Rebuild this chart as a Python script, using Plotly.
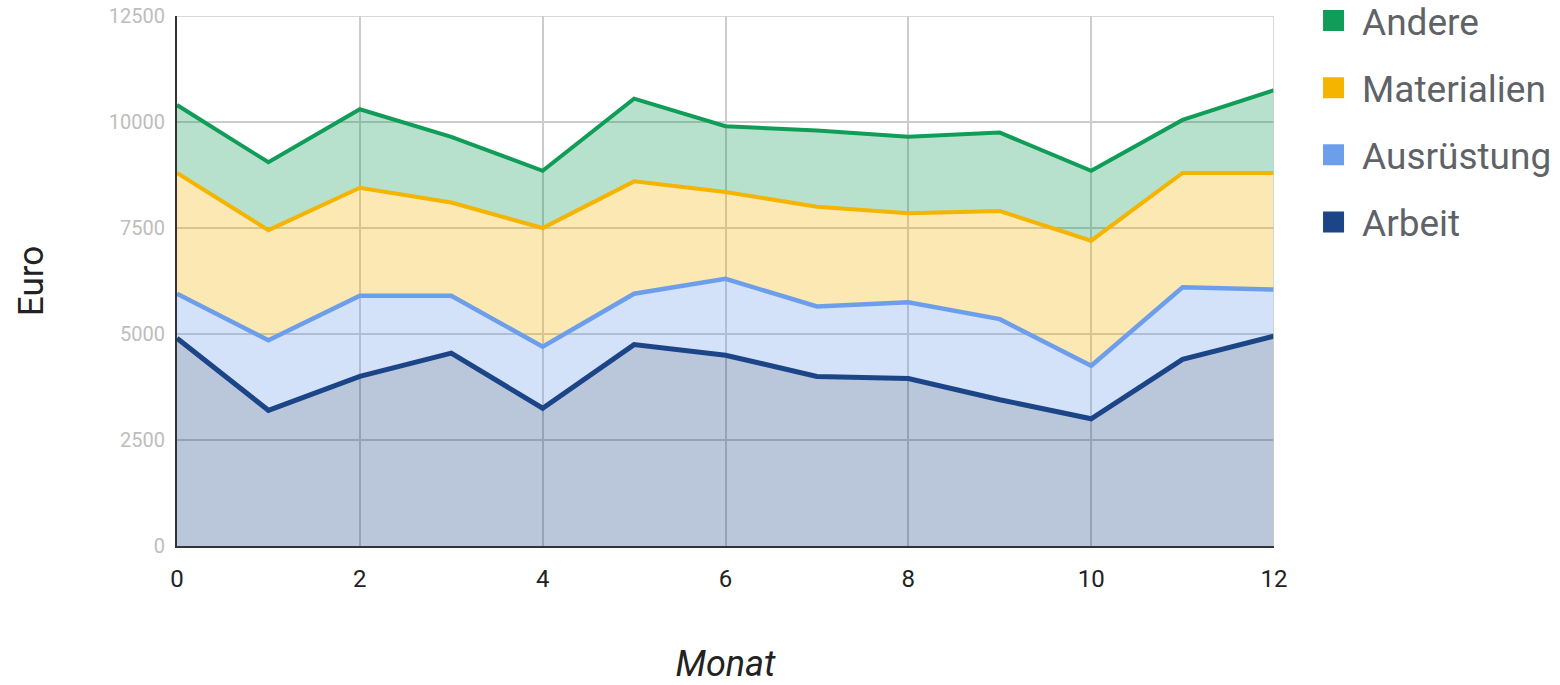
import plotly.graph_objects as go

monate = list(range(13))
arbeit = [4900, 3200, 4000, 4550, 3250, 4750, 4500, 4000, 3950, 3450, 3000, 4400, 4950]
ausruestung = [1050, 1650, 1900, 1350, 1450, 1200, 1800, 1650, 1800, 1900, 1250, 1700, 1100]
materialien = [2850, 2600, 2550, 2200, 2800, 2650, 2050, 2350, 2100, 2550, 2950, 2700, 2750]
andere = [1600, 1600, 1850, 1550, 1350, 1950, 1550, 1800, 1800, 1850, 1650, 1250, 1950]

y_ticks = [0, 2500, 5000, 7500, 10000, 12500]
y_ticktext = ["0", "2500", "5000", "7500", "10000", "12500"]
x_ticks = [0, 2, 4, 6, 8, 10, 12]

serien = [
    ("Arbeit", arbeit, "#1c4587", "rgba(28,69,135,0.3)", 5),
    ("Ausrüstung", ausruestung, "#6d9eeb", "rgba(109,158,235,0.3)", 4.5),
    ("Materialien", materialien, "#f4b400", "rgba(244,180,0,0.3)", 4),
    ("Andere", andere, "#0f9d58", "rgba(15,157,88,0.3)", 4),
]

fig = go.Figure()
for name, vals, col, fcol, w in serien:
    fig.add_trace(go.Scatter(
        x=monate, y=vals, name=name, mode="lines", stackgroup="one",
        line=dict(color=col, width=w), fillcolor=fcol, showlegend=False,
        hoverinfo="x+y+name",
    ))
for name, vals, col, fcol, w in reversed(serien):
    fig.add_trace(go.Scatter(
        x=[None], y=[None], name=name, mode="markers", legendgroup=name,
        marker=dict(symbol="square", size=16, color=col,
                    line=dict(color=col, width=5)),
        showlegend=True,
    ))

fig.update_layout(
    width=1560, height=685,
    margin=dict(l=177, r=286, t=16, b=139, autoexpand=False),
    paper_bgcolor="white", plot_bgcolor="white",
    font=dict(family="Roboto", color="#222222"),
    legend=dict(
        x=1.0283, xanchor="left", y=1.049, yanchor="top",
        traceorder="grouped", tracegroupgap=16, itemwidth=47,
        font=dict(size=37, color="#5f6368"), itemsizing="trace",
        bgcolor="rgba(0,0,0,0)",
    ),
    xaxis=dict(
        range=[0, 12], tickvals=x_ticks,
        showgrid=True, gridcolor="#cccccc", gridwidth=1.5,
        showline=True, linecolor="#333333", linewidth=2,
        zeroline=False, ticks="", ticklabelstandoff=10,
        tickfont=dict(size=24, color="#222222"),
        title=dict(text="<i>Monat</i>", font=dict(size=36, color="#222222"), standoff=75),
    ),
    yaxis=dict(
        range=[0, 12500], tickvals=y_ticks, ticktext=y_ticktext,
        showgrid=True, gridcolor="#cccccc", gridwidth=1.5,
        showline=True, linecolor="#333333", linewidth=2,
        zeroline=False, ticks="", ticklabelstandoff=6,
        ticklabeloverflow="allow",
        tickfont=dict(size=20, color="#bdbdbd"),
        title=dict(text="Euro", font=dict(size=35, color="#222222"), standoff=55),
    ),
)
fig.add_shape(type="line", xref="x", yref="paper", x0=12, x1=12, y0=0, y1=1,
              line=dict(color="#cccccc", width=1.5), layer="above")
fig.add_shape(type="line", xref="paper", yref="y", x0=0, x1=1, y0=12500, y1=12500,
              line=dict(color="#cccccc", width=1.5), layer="above")

# remove the default 8px page margin so the figure fills the window exactly
fig.write_html("out.html", config={"displayModeBar": False},
               post_script="document.body.style.margin='0';")
